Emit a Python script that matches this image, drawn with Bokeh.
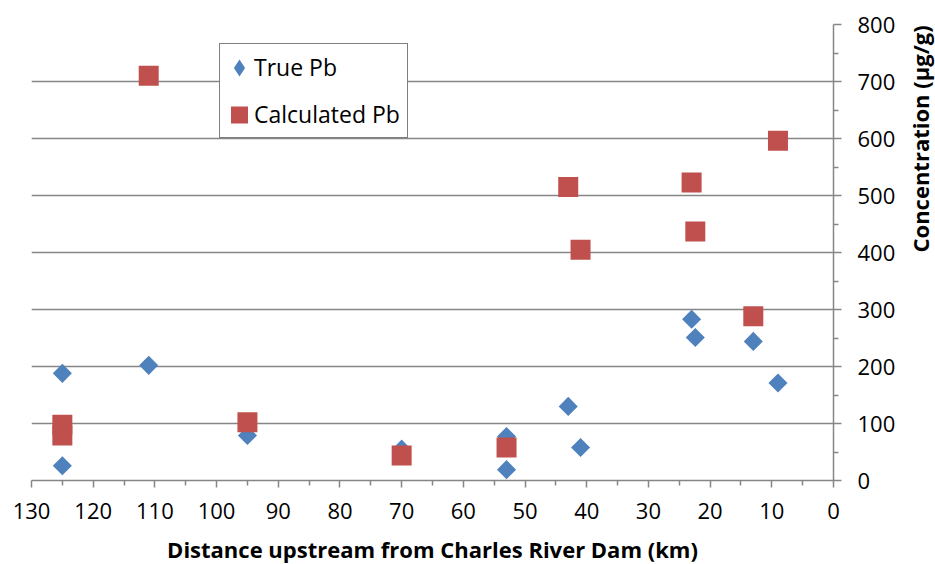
import math
from bokeh.plotting import figure
from bokeh.models import FixedTicker, Legend, LegendItem, Range1d, Label
from bokeh.embed import file_html
from bokeh.resources import INLINE

# ---- data ----
true_km = [125, 125, 111, 95, 70, 53, 53, 43, 41, 23, 22.4, 13, 9]
true_pb = [188, 26, 202, 79, 55, 77, 19, 130, 58, 283, 251, 244, 171]
calc_km = [125, 125, 111, 95, 70, 53, 43, 41, 23, 22.4, 13, 9]
calc_pb = [98, 79, 710, 102, 44, 58, 515, 405, 523, 437, 288, 596]

x_ticks = list(range(0, 131, 10))
x_minor = list(range(5, 130, 10))
y_ticks = list(range(0, 801, 100))
y_minor = list(range(50, 800, 100))

series_names = ["True Pb", "Calculated Pb"]
x_title = "Distance upstream from Charles River Dam (km)"
y_title = "Concentration (\u00b5g/g)"

BLUE = "#4F81BD"
RED = "#C0504D"
GRID = "#868686"
FONT = "Open Sans"
NAN = float("nan")

FW, FH = 802, 456
p = figure(frame_width=FW, frame_height=FH,
           min_border_left=31, min_border_top=24,
           min_border_right=102, min_border_bottom=82,
           x_range=Range1d(130, 0), y_range=Range1d(0, 800),
           y_axis_location="right",
           output_backend="svg", toolbar_location=None)
p.outline_line_color = None
p.background_fill_color = "white"
p.border_fill_color = "white"

# grid
p.xgrid.visible = False
p.ygrid.ticker = FixedTicker(ticks=y_ticks)
p.ygrid.grid_line_color = GRID
p.ygrid.grid_line_width = 1.5

# x axis
xa = p.xaxis[0]
xa.ticker = FixedTicker(ticks=x_ticks, minor_ticks=x_minor)
xa.axis_line_color = GRID
xa.axis_line_width = 1.5
xa.major_tick_line_color = GRID
xa.minor_tick_line_color = GRID
xa.major_tick_line_width = 1.5
xa.minor_tick_line_width = 1.5
xa.major_tick_out = 7
xa.major_tick_in = 0
xa.minor_tick_out = 5
xa.minor_tick_in = 0
xa.major_label_text_font = FONT
xa.major_label_text_font_size = "22px"
xa.major_label_text_color = "black"
xa.major_label_standoff = 15
xa.axis_label = x_title
xa.axis_label_text_font = FONT
xa.axis_label_text_font_style = "bold"
xa.axis_label_text_font_size = "22px"
xa.axis_label_text_color = "black"
xa.axis_label_standoff = 12

# y axis (right)
ya = p.yaxis[0]
ya.ticker = FixedTicker(ticks=y_ticks, minor_ticks=y_minor)
ya.axis_line_color = GRID
ya.axis_line_width = 1.5
ya.major_tick_line_color = GRID
ya.minor_tick_line_color = GRID
ya.major_tick_line_width = 1.5
ya.minor_tick_line_width = 1.5
ya.major_tick_out = 8
ya.major_tick_in = 0
ya.minor_tick_out = 5
ya.minor_tick_in = 0
ya.major_label_text_font = FONT
ya.major_label_text_font_size = "22px"
ya.major_label_text_color = "black"
ya.major_label_standoff = 16

if "axis_label_orientation" in ya.properties():
    ya.axis_label = y_title
    ya.axis_label_text_font = FONT
    ya.axis_label_text_font_style = "bold"
    ya.axis_label_text_font_size = "22px"
    ya.axis_label_text_color = "black"
    ya.axis_label_standoff = 22
    ya.axis_label_orientation = math.pi / 2
else:
    p.add_layout(Label(x=FW + 90, y=FH / 2, x_units="screen", y_units="screen",
                       text=y_title, angle=math.pi / 2,
                       text_align="center", text_baseline="middle",
                       text_font=FONT, text_font_style="bold",
                       text_font_size="22px", text_color="black"))

# data
p.scatter(true_km, true_pb, marker="square", angle=math.pi / 4, size=13.5,
          fill_color=BLUE, line_color=None)
p.scatter(calc_km, calc_pb, marker="square", size=20,
          fill_color=RED, line_color=None)

# legend-only renderers (no drawable points)
leg_true = p.scatter(x=[NAN], y=[NAN], marker="diamond",
                     fill_color=BLUE, line_color=BLUE, line_width=4,
                     line_join="miter")
leg_calc = p.scatter(x=[NAN], y=[NAN], marker="square",
                     fill_color=RED, line_color=RED, line_width=7.4,
                     line_join="miter")

legend = Legend(items=[LegendItem(label=series_names[0], renderers=[leg_true]),
                       LegendItem(label=series_names[1], renderers=[leg_calc])],
                location=(188, 342), margin=0, padding=7, spacing=15,
                glyph_width=24, glyph_height=31, label_standoff=3,
                label_height=31,
                label_text_font=FONT, label_text_font_size="23px",
                label_text_color="black",
                border_line_color="black", border_line_width=1,
                background_fill_color="white", background_fill_alpha=1)
p.add_layout(legend)

open("out.html", "w").write(file_html(p, INLINE))
